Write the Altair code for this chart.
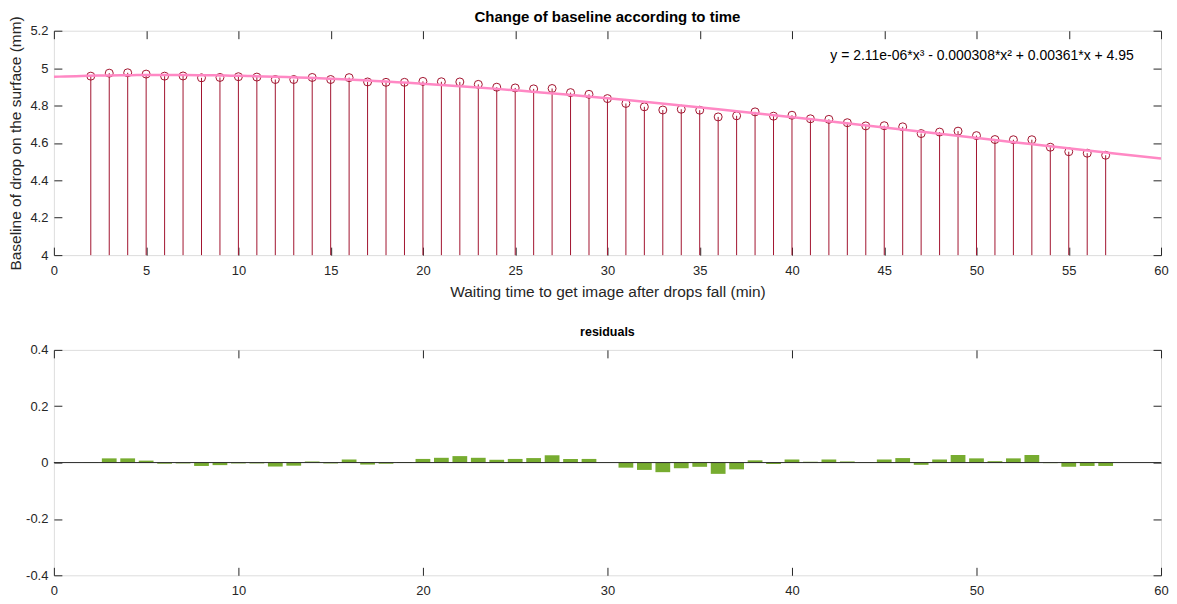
import altair as alt
import pandas as pd

# ---- data ----
minutes = list(range(2, 58))
baseline = [4.957, 4.973, 4.975, 4.968, 4.957, 4.958, 4.948, 4.950, 4.954, 4.952,
            4.939, 4.939, 4.950, 4.939, 4.949, 4.926, 4.924, 4.924, 4.929, 4.927,
            4.926, 4.913, 4.898, 4.894, 4.889, 4.891, 4.869, 4.860, 4.837, 4.811,
            4.793, 4.776, 4.780, 4.775, 4.739, 4.745, 4.766, 4.743, 4.748, 4.729,
            4.726, 4.708, 4.691, 4.692, 4.686, 4.650, 4.658, 4.663, 4.639, 4.618,
            4.617, 4.617, 4.577, 4.553, 4.545, 4.534]
residuals = [0.001, 0.015, 0.015, 0.007, -0.004, -0.003, -0.012, -0.009, -0.003, -0.003,
             -0.014, -0.011, 0.004, -0.003, 0.011, -0.007, -0.004, 0.002, 0.013, 0.017,
             0.023, 0.017, 0.010, 0.013, 0.016, 0.026, 0.013, 0.013, -0.001, -0.018,
             -0.026, -0.034, -0.020, -0.015, -0.040, -0.024, 0.008, -0.005, 0.011, 0.003,
             0.011, 0.004, -0.001, 0.011, 0.016, -0.008, 0.011, 0.027, 0.015, 0.005,
             0.015, 0.027, -0.002, -0.015, -0.012, -0.012]

top_x_ticks = [0, 5, 10, 15, 20, 25, 30, 35, 40, 45, 50, 55, 60]
top_y_ticks = [4, 4.2, 4.4, 4.6, 4.8, 5, 5.2]
bot_x_ticks = [0, 10, 20, 30, 40, 50, 60]
bot_y_ticks = [-0.4, -0.2, 0, 0.2, 0.4]
top_x_domain = [0, 60]
top_y_domain = [4, 5.2]
bot_y_domain = [-0.4, 0.4]

equation_text = ["y = 2.11e-06*x³ - 0.000308*x² + 0.00361*x + 4.95"]
equation_x = [50.3]
equation_y = [5.067]

title_top = "Change of baseline according to time"
title_bot = "residuals"
x_title = "Waiting time to get image after drops fall (min)"
y_title = "Baseline of  drop on the surface (mm)"

df = pd.DataFrame({"minute": minutes, "baseline": baseline, "residual": residuals})
eq_df = pd.DataFrame({"x": equation_x, "y": equation_y, "label": equation_text})
zero_df = pd.DataFrame({"zero": [0]})

# ---- styling ----
FONT = "Liberation Sans"
AXC = "#262626"
STEM = "#a2142f"
PINK = "#ff88c4"
GREEN = "#77ac30"
TICK = 8
W = 1110


def axis(orient, values, labels=True, title=None):
    kw = dict(orient=orient, values=values, labels=labels, domain=False, grid=False,
              ticks=True, tickSize=TICK, offset=-TICK, tickColor=AXC, tickWidth=1,
              labelColor=AXC, labelFont=FONT, labelFontSize=13, labelFlush=False,
              labelOverlap=False, labelExpr="toString(datum.value)",
              title=title, titleFont=FONT, titleFontSize=15.5, titleFontWeight="normal",
              titleColor=AXC)
    if orient in ("left", "right"):
        kw["labelPadding"] = 6
        kw["titlePadding"] = 6
    else:
        kw["labelPadding"] = 9
        kw["titlePadding"] = 7
    return alt.Axis(**kw)


xs_top = alt.Scale(domain=top_x_domain, nice=False, zero=False)
ys_top = alt.Scale(domain=top_y_domain, nice=False, zero=False)

stems = alt.Chart(df).mark_rule(color=STEM, strokeWidth=1).encode(
    x=alt.X("minute:Q", scale=xs_top, axis=axis("bottom", top_x_ticks, True, x_title)),
    y=alt.Y("baseline:Q", scale=ys_top, axis=axis("left", top_y_ticks, True, y_title)),
    y2=alt.datum(4),
)
circles = alt.Chart(df).mark_point(shape="circle", filled=False, color=STEM, size=64,
                                   strokeWidth=1, opacity=1).encode(
    x=alt.X("minute:Q", scale=xs_top, axis=axis("top", top_x_ticks, False)),
    y=alt.Y("baseline:Q", scale=ys_top, axis=axis("right", top_y_ticks, False)),
)
fit = alt.Chart(df).transform_regression(
    "minute", "baseline", method="poly", order=3, extent=top_x_domain
).mark_line(color=PINK, strokeWidth=2.5, clip=True).encode(
    x=alt.X("minute:Q", scale=xs_top, axis=None),
    y=alt.Y("baseline:Q", scale=ys_top, axis=None),
)
eq = alt.Chart(eq_df).mark_text(font=FONT, fontSize=14, color="#000000", align="center",
                                baseline="middle").encode(
    x=alt.X("x:Q", scale=xs_top, axis=None),
    y=alt.Y("y:Q", scale=ys_top, axis=None),
    text="label:N",
)

top = alt.layer(stems, circles, fit, eq).resolve_axis(x="independent", y="independent").properties(
    width=W, height=225,
    title=alt.TitleParams(title_top, font=FONT, fontSize=15, fontWeight="bold", color="#000000",
                          offset=-11, anchor="middle"),
)

xs_bot = alt.Scale(domain=top_x_domain, nice=False, zero=False)
ys_bot = alt.Scale(domain=bot_y_domain, nice=False, zero=False)

bars = alt.Chart(df).transform_calculate(
    x0="datum.minute - 0.4", x1="datum.minute + 0.4"
).mark_rect(color=GREEN).encode(
    x=alt.X("x0:Q", scale=xs_bot, axis=axis("bottom", bot_x_ticks, True)),
    x2="x1:Q",
    y=alt.Y("residual:Q", scale=ys_bot, axis=axis("left", bot_y_ticks, True)),
    y2=alt.datum(0),
)
bars_axes = alt.Chart(df).mark_point(opacity=0).encode(
    x=alt.X("minute:Q", scale=xs_bot, axis=axis("top", bot_x_ticks, False)),
    y=alt.Y("residual:Q", scale=ys_bot, axis=axis("right", bot_y_ticks, False)),
)
zero_line = alt.Chart(zero_df).mark_rule(color=AXC, strokeWidth=1).encode(
    y=alt.Y("zero:Q", scale=ys_bot, axis=None),
)

bottom = alt.layer(bars, bars_axes, zero_line).resolve_axis(x="independent", y="independent").properties(
    width=W, height=226,
    title=alt.TitleParams(title_bot, font=FONT, fontSize=12.5, fontWeight="bold", color="#000000",
                          offset=5, anchor="middle"),
)

chart = alt.vconcat(top, bottom, spacing=26).properties(padding=0).configure_view(
    stroke=AXC, strokeWidth=1
).configure(font=FONT)

chart.save("out.html", embed_options={"renderer": "svg", "actions": False})
